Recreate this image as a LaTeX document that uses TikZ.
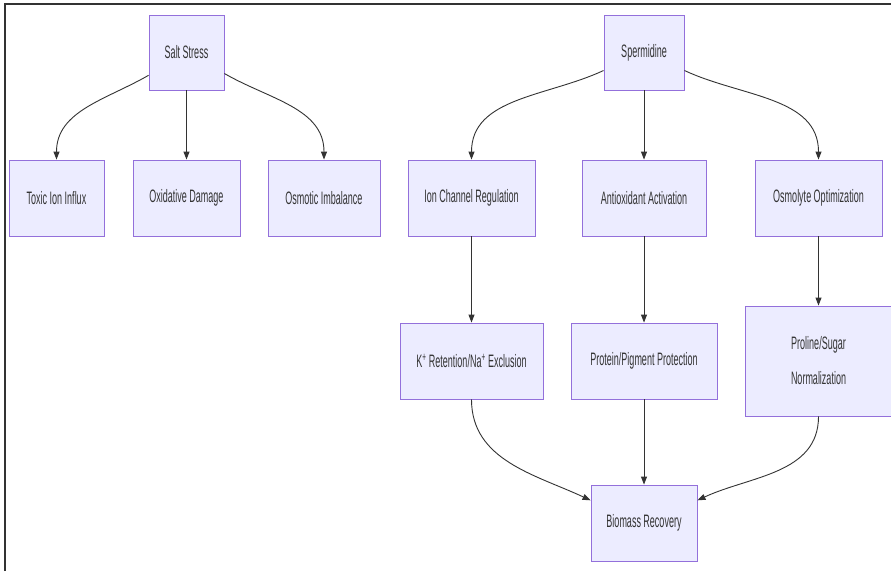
\documentclass[tikz,border=0pt]{standalone}
\usepackage{fontspec}
\usepackage{tikz}
\usetikzlibrary{arrows.meta}
\newfontfamily\boxfont[FakeStretch=0.5]{Liberation Sans}
\definecolor{boxfill}{HTML}{ECECFF}
\definecolor{boxline}{HTML}{9370DB}
\definecolor{edgeline}{HTML}{333333}
\tikzstyle{flowbox} = [draw=boxline, fill=boxfill, line width=0.9pt,
    rectangle, inner sep=0pt, align=center, text=edgeline,
    font=\boxfont\fontsize{18}{35}\selectfont]
\tikzstyle{flowarrow} =[draw=edgeline, line width=0.9pt,
    -{Triangle[length=8pt,width=6pt]}]

\begin{document}
\begin{tikzpicture}[x=1pt, y=-1pt]
                \useasboundingbox (0,0) rectangle (891,571);
                \fill[white] (0,0) rectangle (891,571);
                \draw[black!80, line width=1.5pt] (5,571) -- (5,4) -- (891,4);
                % stress side
                \node [flowbox, minimum width=75pt, minimum height=75pt] (salt) at (186.5,52.5) {Salt Stress};
                \node [flowbox, minimum width=95pt, minimum height=76pt] (toxic) at (56.5,198) {Toxic Ion Influx};
                \node [flowbox, minimum width=107pt, minimum height=76pt] (oxid) at (186.5,198) {Oxidative Damage};
                \node [flowbox, minimum width=112pt, minimum height=76pt] (osmo) at (324,198) {Osmotic Imbalance};
                % spermidine side
                \node [flowbox, minimum width=80pt, minimum height=75pt] (sperm) at (644,52.5) {Spermidine};
                \node [flowbox, minimum width=127pt, minimum height=76pt] (ionch) at (471.5,198) {Ion Channel Regulation};
                \node [flowbox, minimum width=124pt, minimum height=76pt] (antiox) at (644,198) {Antioxidant Activation};
                \node [flowbox, minimum width=127pt, minimum height=76pt] (osmol) at (818.5,198) {Osmolyte Optimization};
                \node [flowbox, minimum width=143pt, minimum height=76pt] (kret) at (471.5,361) {K\textsuperscript{+} Retention/Na\textsuperscript{+} Exclusion};
                \node [flowbox, minimum width=146pt, minimum height=76pt] (prot) at (644,361) {Protein/Pigment Protection};
                \node [flowbox, minimum width=147pt, minimum height=110pt] (prol) at (818.5,361) {Proline/Sugar\\Normalization};
                \node [flowbox, minimum width=106pt, minimum height=76pt] (bio) at (644,523) {Biomass Recovery};
                % connectors
                \draw [flowarrow] (salt.211) to[out=210, in=90] (toxic.north);
                \draw [flowarrow] (salt.south) -- (oxid.north);
                \draw [flowarrow] (salt.-29) to[out=-30, in=90] (osmo.north);
                \draw [flowarrow] (sperm.204) to[out=205, in=90] (ionch.north);
                \draw [flowarrow] (sperm.south) -- (antiox.north);
                \draw [flowarrow] (sperm.-24) to[out=-25, in=90] (osmol.north);
                \draw [flowarrow] (ionch.south) -- (kret.north);
                \draw [flowarrow] (antiox.south) -- (prot.north);
                \draw [flowarrow] (osmol.south) -- (prol.north);
                \draw [flowarrow] (kret.south) to[out=-90, in=155] (bio.157);
                \draw [flowarrow] (prot.south) -- (bio.north);
                \draw [flowarrow] (prol.south) to[out=-90, in=25] (bio.23);
            \end{tikzpicture}
\end{document}
